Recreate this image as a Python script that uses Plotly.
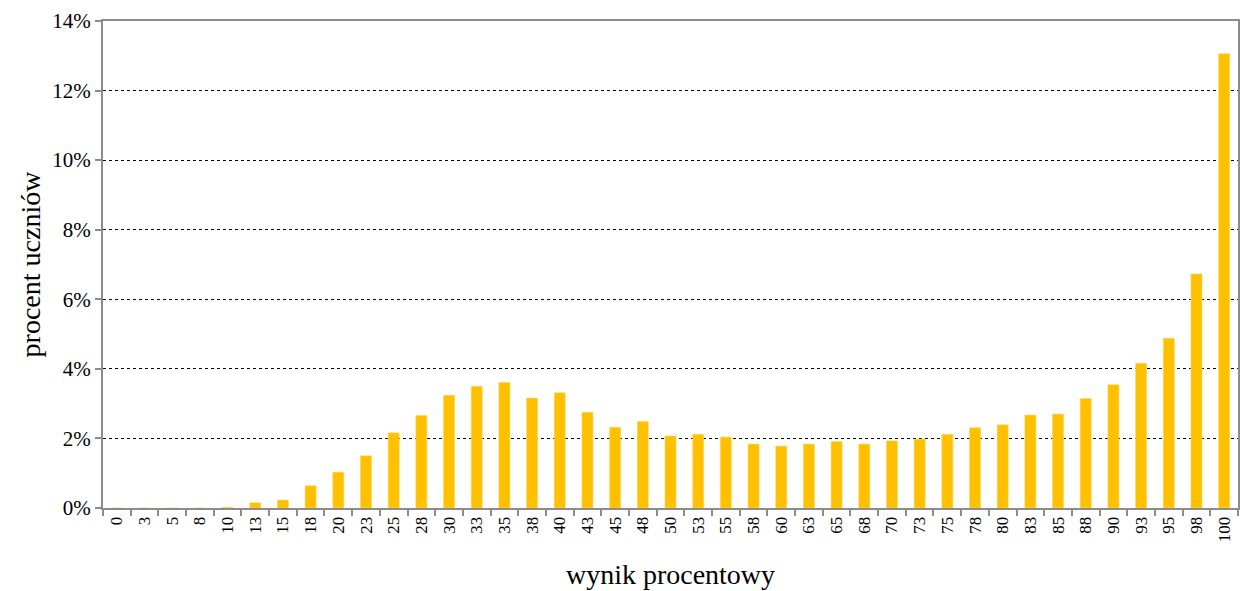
import plotly.graph_objects as go

categories = ["0", "3", "5", "8", "10", "13", "15", "18", "20", "23", "25", "28", "30", "33",
              "35", "38", "40", "43", "45", "48", "50", "53", "55", "58", "60", "63", "65", "68",
              "70", "73", "75", "78", "80", "83", "85", "88", "90", "93", "95", "98", "100"]
values = [0.0, 0.0, 0.0, 0.0, 0.02, 0.15, 0.23, 0.64, 1.03, 1.50, 2.16, 2.66, 3.24, 3.50,
          3.61, 3.16, 3.31, 2.75, 2.32, 2.49, 2.07, 2.12, 2.04, 1.84, 1.78, 1.84, 1.91, 1.84,
          1.93, 1.98, 2.12, 2.31, 2.39, 2.67, 2.70, 3.15, 3.54, 4.16, 4.88, 6.73, 13.06]
y_ticks = [0, 2, 4, 6, 8, 10, 12, 14]
y_ticktext = ["0%", "2%", "4%", "6%", "8%", "10%", "12%", "14%"]

FONT = "Liberation Serif, Times New Roman, serif"
AXIS_GRAY = "#8c8c8c"

fig = go.Figure(go.Bar(
    x=categories, y=values,
    marker=dict(color="#FFC000", line=dict(color="#FFD966", width=0.6)),
    hoverinfo="x+y",
))

fig.update_layout(
    width=1240, height=591,
    margin=dict(l=103, r=2, t=21, b=83, autoexpand=False),
    paper_bgcolor="white", plot_bgcolor="white",
    bargap=0.6,
    showlegend=False,
    font=dict(family=FONT, color="black"),
)

fig.update_xaxes(
    type="category",
    tickangle=-90,
    tickfont=dict(family=FONT, size=17, color="black"),
    showline=True, linecolor=AXIS_GRAY, linewidth=2, mirror=True,
    ticks="outside", ticklen=6, tickcolor=AXIS_GRAY, tickwidth=2,
    tickson="boundaries",
    showgrid=False,
    automargin=False,
    title=dict(text="wynik procentowy", font=dict(family=FONT, size=28, color="black"), standoff=23),
)

fig.update_yaxes(
    range=[0, 14],
    tickvals=y_ticks, ticktext=y_ticktext,
    tickfont=dict(family=FONT, size=21, color="black"),
    showline=True, linecolor=AXIS_GRAY, linewidth=2, mirror=True,
    ticks="outside", ticklen=6, tickcolor=AXIS_GRAY, tickwidth=2,
    showgrid=True, gridcolor="black", gridwidth=1, griddash="dot",
    zeroline=False,
    automargin=False,
    title=dict(text="procent uczniów", font=dict(family=FONT, size=28, color="black"), standoff=3),
)

fig.write_html("out.html", config={"displayModeBar": False},
               post_script="document.body.style.margin='0';")
